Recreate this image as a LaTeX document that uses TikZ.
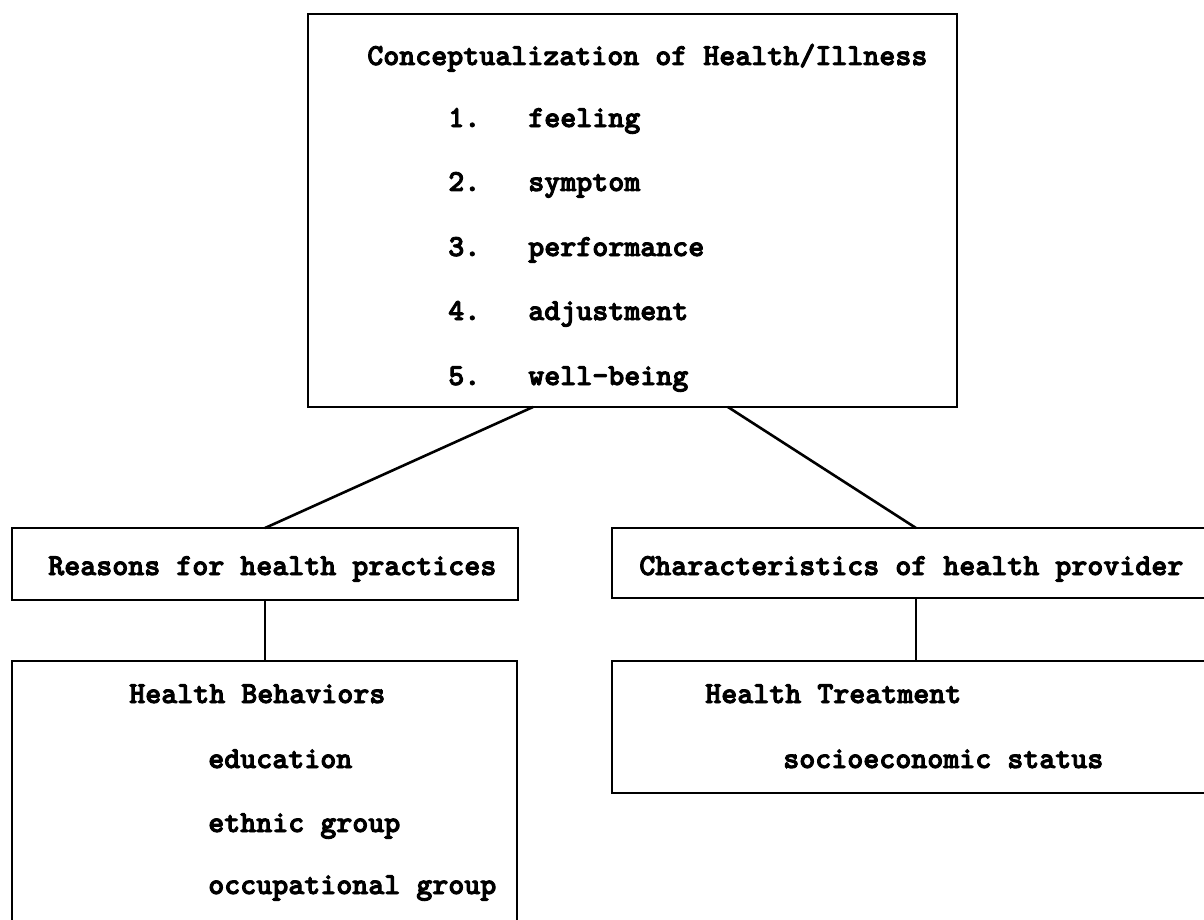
\documentclass[tikz,border=0pt]{standalone}
\usepackage{fontspec}
% heavy typewriter face (Latin Modern Mono, emboldened)
\setmainfont{lmmonolt10-bold}[Extension=.otf, FakeBold=3]
\usetikzlibrary{calc}
\begin{document}
\begin{tikzpicture}[x=0.5pt,y=-0.5pt,
  line width=1.3pt,
  box/.style={draw=black, line width=1.3pt, rectangle, anchor=north west, inner sep=0pt, outer sep=0pt},
  txt/.style={anchor=base west, inner sep=0pt, font=\fontsize{15.24}{18}\selectfont}]
\useasboundingbox (0,0) rectangle (1204,920);
\clip (0,0) rectangle (1204,920);

% boxes
\node[box, minimum width=324.5pt, minimum height=196.5pt] (top)  at (308,14)  {};
\node[box, minimum width=253pt,   minimum height=36pt]    (lmid) at (12,528)  {};
\node[box, minimum width=304pt,   minimum height=35pt]    (rmid) at (612,528) {};
\node[box, minimum width=252.5pt, minimum height=150pt]   (lbot) at (12,661)  {};
\node[box, minimum width=304pt,   minimum height=66pt]    (rbot) at (612,661) {};

% top box text
\node[txt] (title) at (366,65) {Conceptualization of Health/Illness};
\node[txt] (n1) at (447,127) {1.};  \node[txt] (w1) at (527,127) {feeling};
\node[txt] (n2) at (447,191) {2.};  \node[txt] (w2) at (527,191) {symptom};
\node[txt] (n3) at (447,256) {3.};  \node[txt] (w3) at (527,256) {performance};
\node[txt] (n4) at (447,320) {4.};  \node[txt] (w4) at (527,320) {adjustment};
\node[txt] (n5) at (447,385) {5.};  \node[txt] (w5) at (527,385) {well-being};

% middle boxes text
\node[txt] (reasons) at (47,575)  {Reasons for health practices};
\node[txt] (chars)   at (638,575) {Characteristics of health provider};

% bottom boxes text
\node[txt] (hb)   at (128,703) {Health Behaviors};
\node[txt] (edu)  at (207,768) {education};
\node[txt] (eth)  at (207,832) {ethnic group};
\node[txt] (occ)  at (207,894) {occupational group};
\node[txt] (ht)   at (704,703) {Health Treatment};
\node[txt] (ses)  at (782,768) {socioeconomic status};

% connectors
\draw ($(top.south west)!0.3467!(top.south east)$) -- (lmid.north);
\draw ($(top.south west)!0.647!(top.south east)$) -- (rmid.north);
\draw (lmid.south) -- (lmid.south |- lbot.north);
\draw (rmid.south) -- (rmid.south |- rbot.north);
\end{tikzpicture}
\end{document}
